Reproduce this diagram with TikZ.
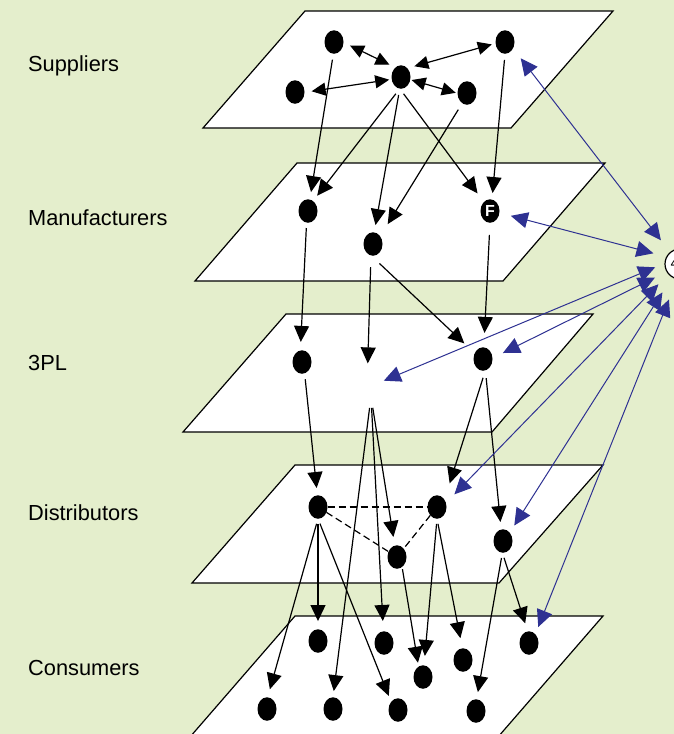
\documentclass[tikz,border=0pt]{standalone}
\usepackage{fontspec}
\setmainfont{Liberation Sans}
\usetikzlibrary{arrows.meta,shapes.geometric}
\definecolor{bgc}{RGB}{228,238,204}
\definecolor{lblue}{RGB}{46,49,146}
\tikzset{
 plane/.style={draw=black, fill=white, line width=1.2pt, line join=miter},
 blob/.style={ellipse, fill=black, minimum width=19pt, minimum height=23.5pt, inner sep=0pt, outer sep=0pt},
 ghost/.style={ellipse, minimum width=19pt, minimum height=23.5pt, inner sep=0pt, outer sep=0pt},
 lbl/.style={anchor=base west, inner sep=0pt, font=\fontsize{21.8}{26}\selectfont},
 arr/.style={line width=1.2pt, -{Triangle[length=16pt,width=15pt]}},
 darr/.style={line width=1.2pt, {Triangle[length=14pt,width=13pt]}-{Triangle[length=14pt,width=13pt]}},
 barr/.style={line width=1pt, color=lblue, {Triangle[length=17pt,width=16pt]}-{Triangle[length=17pt,width=16pt]}},
 dsh/.style={line width=1.2pt, dash pattern=on 7pt off 4pt},
 hub/.style={circle, draw=black, fill=white, line width=1.2pt, minimum size=30pt, inner sep=0pt, font=\bfseries\fontsize{10}{10}\selectfont},
}
\begin{document}
\begin{tikzpicture}[x=1pt,y=-1pt]
\useasboundingbox (0,0) rectangle (674,734);
\fill[bgc] (0,0) rectangle (674,734);
\clip (0,0) rectangle (674,734);
% planes
\draw[plane] (305,11) -- (613,11) -- (511,128) -- (203,128) -- cycle;
\draw[plane] (297,163) -- (605,163) -- (503,281) -- (195,281) -- cycle;
\draw[plane] (286,314) -- (593,314) -- (492,432) -- (183,432) -- cycle;
\draw[plane] (295,465) -- (603,465) -- (499,583) -- (192,583) -- cycle;
\draw[plane] (295,616) -- (603,616) -- (498,737) -- (190,737) -- cycle;
% labels
\node[lbl] (lsup) at (28,71) {Suppliers};
\node[lbl] (lman) at (28,225.5) {Manufacturers};
\node[lbl] (l3pl) at (28,370.5) {3PL};
\node[lbl] (ldis) at (28,520.5) {Distributors};
\node[lbl] (lcon) at (28,675) {Consumers};
% suppliers
\node[blob] (S1) at (334,42) {};
\node[blob] (S2) at (505,42) {};
\node[blob] (S3) at (401,77) {};
\node[blob] (S4) at (295,92) {};
\node[blob] (S5) at (467,93) {};
% manufacturers
\node[blob] (M1) at (308,211) {};
\node[blob] (M2) at (373,244) {};
\node[blob] (F) at (490,211) {\color{white}\bfseries\fontsize{16}{16}\selectfont F};
% 3PL
\node[blob] (P1) at (302,362) {};
\node[blob] (P2) at (483,359) {};
\node[ghost] (P0) at (371,385) {};
% distributors
\node[blob] (D1) at (318,507) {};
\node[blob] (D2) at (437,507) {};
\node[blob] (D3) at (397,557) {};
\node[blob] (D4) at (503,541) {};
% consumers
\node[blob] (C1) at (318,641) {};
\node[blob] (C2) at (384,643) {};
\node[blob] (C3) at (463,660) {};
\node[blob] (C4) at (529,643) {};
\node[blob] (C5) at (423,677) {};
\node[blob] (C6) at (267,709) {};
\node[blob] (C7) at (333,709) {};
\node[blob] (C8) at (398,710) {};
\node[blob] (C9) at (476,711) {};
% 4PL
\node[hub] (fourpl) at (680,264) {4PL};
% supplier links
\draw[darr, shorten <=7.2pt, shorten >=6.5pt] (S1.-2) -- (S3.121);
\draw[darr, shorten <=7.3pt, shorten >=3.9pt] (S3.54) -- (S2.188);
\draw[darr, shorten <=7.2pt, shorten >=2.5pt] (S4.-2) -- (S3.194);
\draw[darr, shorten <=1.4pt, shorten >=1.8pt] (S3.-16) -- (S5.182);
% suppliers -> manufacturers
\draw[arr, shorten <=6pt, shorten >=7.5pt] (S1.-93) -- (M1.81);
\draw[arr, shorten <=6.4pt, shorten >=6.7pt] (S3.-96) -- (M1.63);
\draw[arr, shorten <=6.4pt, shorten >=7.4pt] (S3.-96) -- (M2.84);
\draw[arr, shorten <=6.4pt, shorten >=10.7pt] (S3.-96) -- (F.124);
\draw[arr, shorten <=7.6pt, shorten >=14.3pt] (S5.-115) -- (M2.47);
\draw[arr, shorten <=6.2pt, shorten >=6.5pt] (S2.-90) -- (F.80);
% manufacturers -> 3PL
\draw[arr, shorten <=5.4pt, shorten >=8.5pt] (M1.-97) -- (P1.98);
\draw[arr, shorten <=11.6pt, shorten >=10.7pt] (M2.-100) -- (P0.108);
\draw[arr, shorten <=11.6pt, shorten >=14.3pt] (M2.-100) -- (P2.145);
\draw[arr, shorten <=12.2pt, shorten >=14.4pt] (F.-90) -- (P2.86);
% 3PL -> distributors / consumers
\draw[arr, shorten <=6pt, shorten >=7.3pt] (P1.-77) -- (D1.93);
\draw[arr, shorten <=11.2pt, shorten >=8.7pt] (P0.-90) -- (D3.101);
\draw[arr, shorten <=11.2pt, shorten >=6.2pt] (P0.-90) -- (C7.90);
\draw[arr, shorten <=11.2pt, shorten >=10.3pt] (P0.-90) -- (C2.93);
\draw[arr, shorten <=7.8pt, shorten >=17.2pt] (P2.-78) -- (D2.44);
\draw[arr, shorten <=7.8pt, shorten >=7.5pt] (P2.-78) -- (D4.99);
% distributors -> consumers
\draw[arr, shorten <=5.2pt, shorten >=8.3pt] (D1.-90) -- (C6.87);
\draw[arr, shorten <=5.2pt, shorten >=8.2pt] (D1.-90) -- (C1.90);
\draw[arr, shorten <=5.2pt, shorten >=6.4pt] (D1.-90) -- (C8.130);
\draw[arr, shorten <=2.3pt, shorten >=3.9pt] (D3.-63) -- (C5.113);
\draw[arr, shorten <=5.2pt, shorten >=9.4pt] (D2.-90) -- (C5.85);
\draw[arr, shorten <=5.2pt, shorten >=10.3pt] (D2.-90) -- (C3.93);
\draw[arr, shorten <=5.3pt, shorten >=7.3pt] (D4.-93) -- (C9.87);
\draw[arr, shorten <=5.3pt, shorten >=8.4pt] (D4.-93) -- (C4.96);
% dashed links among distributors
\draw[dsh] (D1) -- (D2);
\draw[dsh] (D1) -- (D3);
\draw[dsh] (D2) -- (D3);
% 4PL links
\draw[barr, shorten <=12.6pt, shorten >=14.8pt] (S2.-38) -- (fourpl.130);
\draw[barr, shorten <=11.8pt, shorten >=13.2pt] (F.-11) -- (fourpl.152);
\draw[barr, shorten <=3.9pt, shorten >=10pt] (P0.17) -- (fourpl.178);
\draw[barr, shorten <=11.6pt, shorten >=12.8pt] (P2.5) -- (fourpl.210);
\draw[barr, shorten <=12.1pt, shorten >=14pt] (D2.24) -- (fourpl.221);
\draw[barr, shorten <=8.5pt, shorten >=17.8pt] (D4.51) -- (fourpl.239);
\draw[barr, shorten <=7.8pt, shorten >=21.7pt] (C4.54) -- (fourpl.259);
\end{tikzpicture}
\end{document}
